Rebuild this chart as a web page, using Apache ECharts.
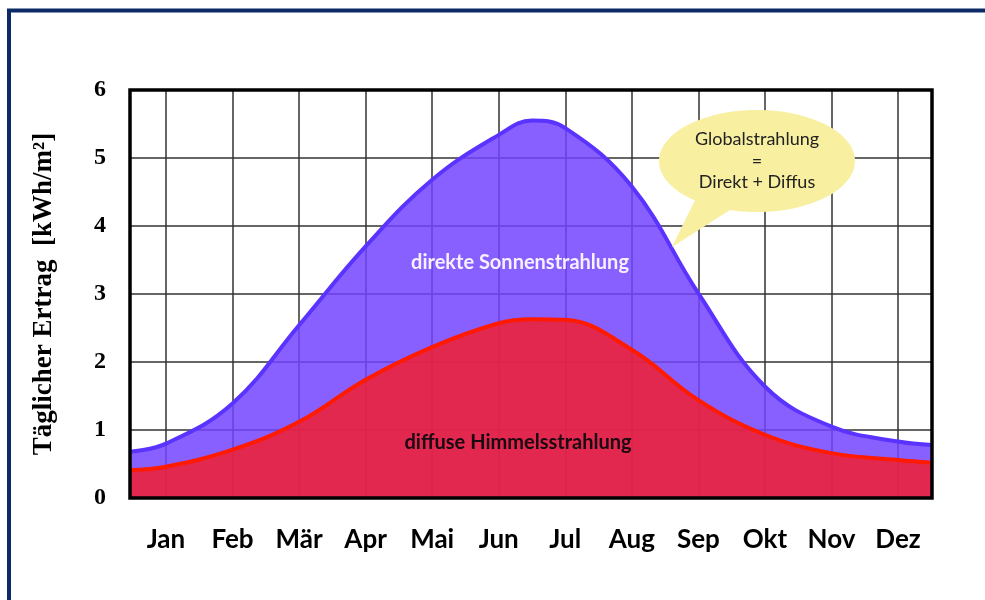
<!DOCTYPE html>
<html>
<head>
<meta charset="utf-8">
<script src="https://cdn.jsdelivr.net/npm/echarts@6/dist/echarts.min.js"></script>
<style>
  html, body { margin: 0; padding: 0; background: #fff; }
  #chart { width: 985px; height: 600px; }
</style>
</head>
<body>
<div id="chart"></div>
<script>
// Monate und Messpunkte (Position in Monaten, 1 = Jan)
const months = ['Jan', 'Feb', 'Mär', 'Apr', 'Mai', 'Jun', 'Jul', 'Aug', 'Sep', 'Okt', 'Nov', 'Dez'];
const monthPos = [1, 2, 3, 4, 5, 6, 7, 8, 9, 10, 11, 12];
const samplePos = [0.46, 1, 2, 3, 4, 5, 6, 6.5, 7, 8, 9, 10, 11, 12, 12.51];
// Globalstrahlung (obere Kurve) und diffuse Strahlung, kWh/m² pro Tag
const globalVals = [0.68, 0.80, 1.39, 2.54, 3.70, 4.68, 5.34, 5.55, 5.44, 4.58, 3.01, 1.64, 1.05, 0.83, 0.78];
const diffusVals = [0.41, 0.46, 0.71, 1.12, 1.74, 2.22, 2.57, 2.63, 2.62, 2.18, 1.44, 0.93, 0.66, 0.56, 0.52];
const yTicks = [0, 1, 2, 3, 4, 5, 6];

const G = { left: 130, top: 90, width: 802, height: 408 };

const chart = echarts.init(document.getElementById('chart'));

const option = {
    animation: false,
    grid: { left: G.left, top: G.top, width: G.width, height: G.height, show: false },
    xAxis: {
        type: 'value',
        min: samplePos[0],
        max: samplePos[samplePos.length - 1],
        axisLine: { show: false },
        axisTick: { show: false, customValues: monthPos },
        splitLine: { show: true, lineStyle: { color: '#333', width: 1.5 } },
        axisLabel: {
            customValues: monthPos,
            formatter: v => months[monthPos.indexOf(v)] || '',
            margin: 29,
            color: '#000',
            fontFamily: 'Lato',
            fontWeight: 'bold',
            fontSize: 26
        }
    },
    yAxis: {
        type: 'value',
        min: yTicks[0],
        max: yTicks[yTicks.length - 1],
        interval: 1,
        name: 'Täglicher Ertrag  [kWh/m²]',
        nameLocation: 'middle',
        nameGap: 72,
        nameTextStyle: {
            color: '#000',
            fontFamily: 'Liberation Serif',
            fontWeight: 'bold',
            fontSize: 27
        },
        axisLine: { show: false },
        axisTick: { show: false },
        splitLine: { show: true, lineStyle: { color: '#333', width: 1.5 } },
        axisLabel: {
            margin: 24,
            color: '#000',
            fontFamily: 'Liberation Serif',
            fontWeight: 'bold',
            fontSize: 24
        }
    },
    series: [
        {
            // Globalstrahlung, Fläche bis 0 (sichtbarer Teil = direkt)
            name: 'global',
            type: 'line',
            smooth: 0.4,
            symbol: 'none',
            z: 3,
            data: samplePos.map((x, i) => [x, globalVals[i]]),
            lineStyle: { color: '#5a33ff', width: 4 },
            areaStyle: { color: '#7344ff', opacity: 0.85 }
        },
        {
            name: 'diffus',
            type: 'line',
            smooth: 0.4,
            symbol: 'none',
            z: 4,
            data: samplePos.map((x, i) => [x, diffusVals[i]]),
            lineStyle: { color: '#ff1a00', width: 4 },
            areaStyle: { color: '#fa1b23', opacity: 0.8 }
        }
    ],
    graphic: [
        // äußerer Rahmen
        {
            type: 'rect', z: 100, silent: true,
            shape: { x: 9, y: 10.5, width: 1000, height: 640 },
            style: { fill: 'none', stroke: '#0b2a66', lineWidth: 4 }
        },
        // Rahmen ums Diagramm
        {
            type: 'rect', z: 100, silent: true,
            shape: { x: G.left, y: G.top, width: G.width, height: G.height },
            style: { fill: 'none', stroke: '#000', lineWidth: 3.5 }
        },
        {
            type: 'text', z: 100, silent: true,
            x: 520, y: 263,
            style: {
                text: 'direkte Sonnenstrahlung', fill: '#f6f0ff',
                font: 'bold 20px Lato', textAlign: 'center', textVerticalAlign: 'middle'
            }
        },
        {
            type: 'text', z: 100, silent: true,
            x: 518, y: 443,
            style: {
                text: 'diffuse Himmelsstrahlung', fill: '#1a0a12',
                font: 'bold 20px Lato', textAlign: 'center', textVerticalAlign: 'middle'
            }
        },
        // Sprechblase
        {
            type: 'polygon', z: 90, silent: true,
            shape: { points: [[695, 200], [730, 210], [672, 247]] },
            style: { fill: '#f8f0a0' }
        },
        {
            type: 'ellipse', z: 91, silent: true,
            shape: { cx: 757, cy: 161, rx: 98, ry: 51 },
            style: { fill: '#f8f0a0' }
        },
        {
            type: 'text', z: 100, silent: true,
            x: 757, y: 161,
            style: {
                text: 'Globalstrahlung\n=\nDirekt + Diffus', fill: '#222',
                font: '18px Lato', lineHeight: 21.5,
                textAlign: 'center', textVerticalAlign: 'middle'
            }
        }
    ]
};

chart.setOption(option);
</script>
</body>
</html>
